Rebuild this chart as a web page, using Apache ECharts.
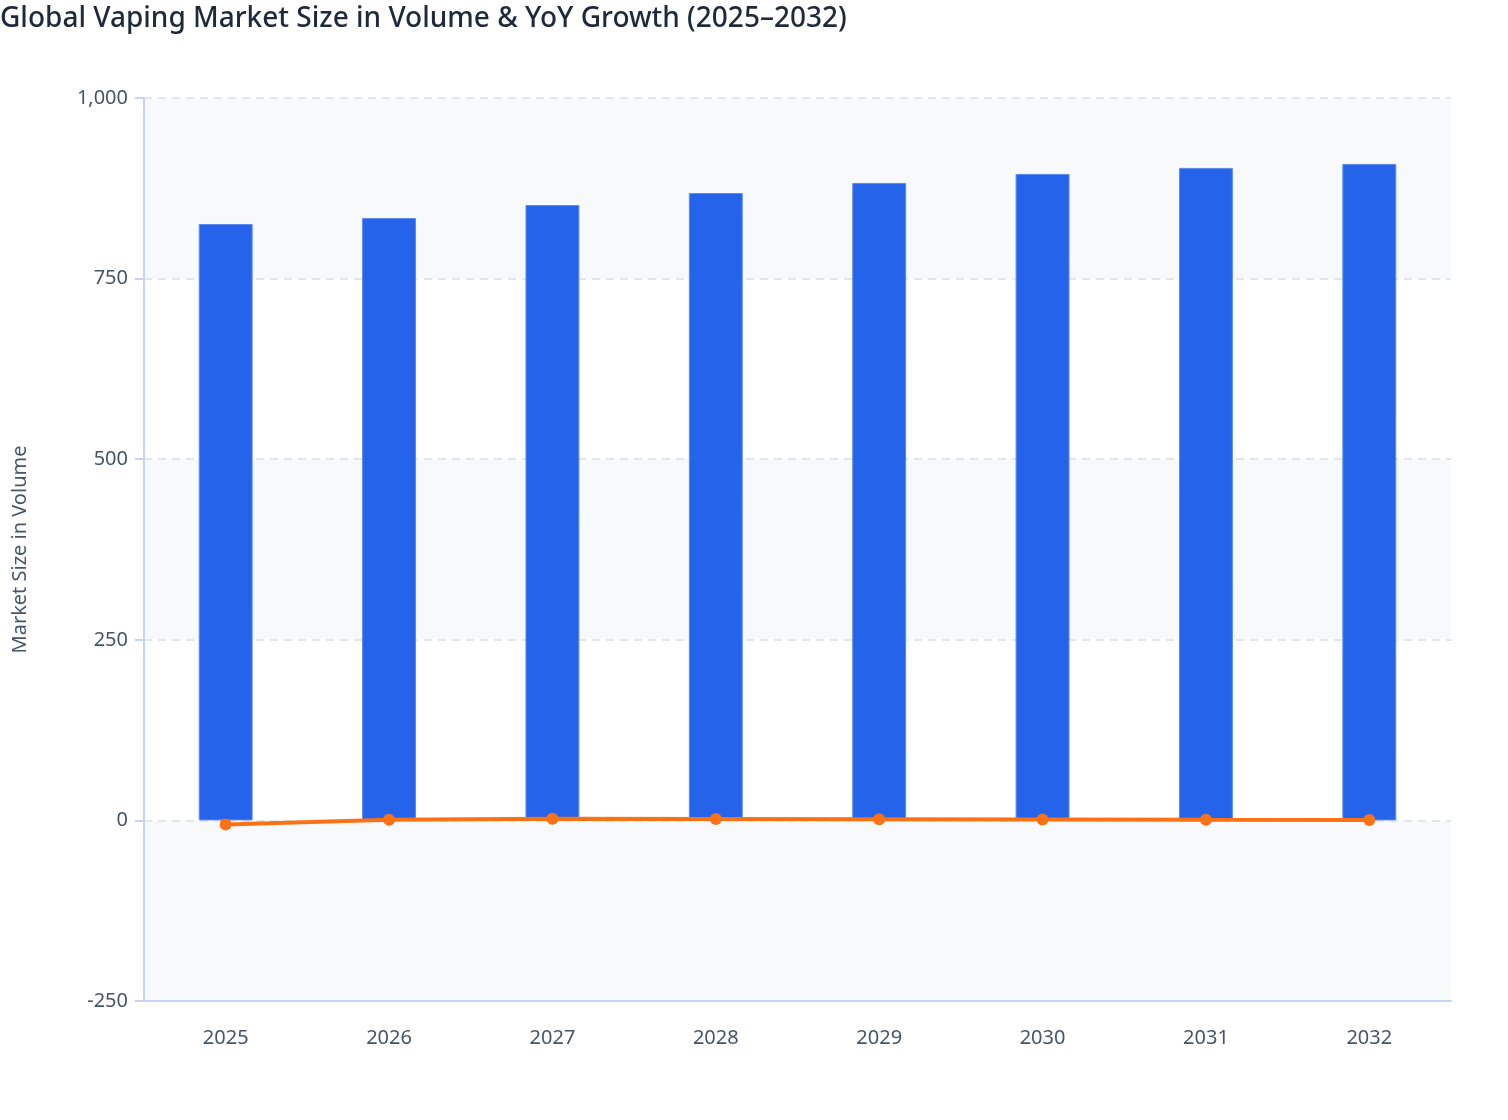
<!DOCTYPE html>
<html>
<head>
<meta charset="utf-8">
<script src="https://cdn.jsdelivr.net/npm/echarts@6/dist/echarts.min.js"></script>
<style>
  html, body { margin: 0; padding: 0; background: #fff; }
  #chart { width: 1508px; height: 1120px; }
</style>
</head>
<body>
<div id="chart"></div>
<script>
const years = ['2025', '2026', '2027', '2028', '2029', '2030', '2031', '2032'];
const marketVolume = [825.6, 833.9, 851.9, 868.5, 882.4, 894.9, 903.2, 908.7];
const yoyGrowth = [-5.8, 1.0, 2.2, 2.0, 1.6, 1.4, 0.9, 0.6];

const chart = echarts.init(document.getElementById('chart'));
const font = '"Noto Sans", "Open Sans", sans-serif';
const labelColor = '#475569';

const option = {
  backgroundColor: '#ffffff',
  textStyle: { fontFamily: font },
  title: {
    text: 'Global Vaping Market Size in Volume & YoY Growth (2025–2032)',
    left: 0,
    top: 5,
    padding: 0,
    textStyle: { fontFamily: font, fontSize: 28, fontWeight: 500, color: '#1e293b' }
  },
  grid: { left: 144, right: 57, top: 98, bottom: 119, containLabel: false },
  xAxis: {
    type: 'category',
    data: years,
    boundaryGap: true,
    axisLine: { onZero: false, lineStyle: { color: '#c7d2f5', width: 2 } },
    axisTick: { alignWithLabel: true, length: 10, lineStyle: { color: '#c7d2f5', width: 2 } },
    axisLabel: { color: labelColor, fontSize: 20, margin: 27, fontFamily: font }
  },
  yAxis: {
    type: 'value',
    min: -250,
    max: 1000,
    interval: 250,
    name: 'Market Size in Volume',
    nameLocation: 'middle',
    nameGap: 114,
    nameTextStyle: { color: labelColor, fontSize: 20, fontFamily: font },
    axisLine: { show: true, lineStyle: { color: '#c7d2f5', width: 2 } },
    axisTick: { show: true, length: 9, lineStyle: { color: '#c7d2f5', width: 2 } },
    axisLabel: {
      color: labelColor,
      fontSize: 20,
      margin: 16,
      fontFamily: font,
      formatter: v => v.toLocaleString('en-US')
    },
    splitLine: { lineStyle: { color: '#e2e5ea', type: [8, 6], width: 2 } },
    splitArea: { show: true, areaStyle: { color: ['#f8f9fb', '#ffffff'] } }
  },
  series: [
    {
      name: 'Market Size in Volume',
      type: 'bar',
      data: marketVolume,
      barWidth: '33%',
      itemStyle: { color: '#2563eb', borderColor: '#5d8bf0', borderWidth: 1 },
      z: 2
    },
    {
      name: 'YoY Growth',
      type: 'line',
      data: yoyGrowth,
      symbol: 'circle',
      symbolSize: 12,
      lineStyle: { color: '#f97316', width: 4 },
      itemStyle: { color: '#f97316' },
      z: 3
    }
  ]
};

chart.setOption(option);
</script>
</body>
</html>
